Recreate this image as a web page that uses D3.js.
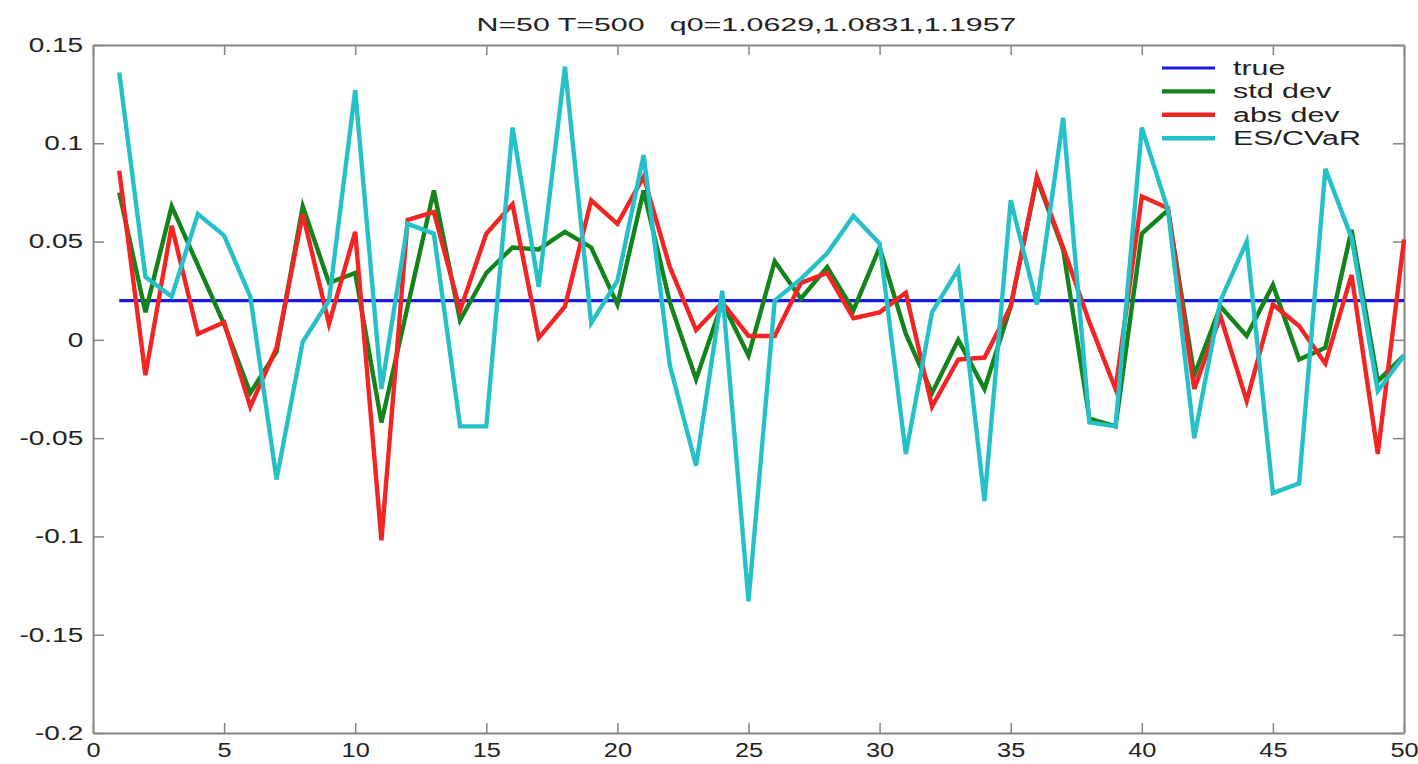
<!DOCTYPE html>
<html>
<head>
<meta charset="utf-8">
<script src="https://d3js.org/d3.v7.min.js"></script>
<style>
    body { margin: 0; background: #fff; }
    svg { display: block; font-family: "Liberation Sans", Arial, sans-serif; }
</style>
</head>
<body>
<svg id="drawing_region"></svg>
<script>
// values, index 1..50
const title = 'N=50 T=500   q0=1.0629,1.0831,1.1957';
const trueValue = 0.02;
const stdDev = [0.075, 0.014, 0.068, 0.038, 0.008, -0.027, -0.006, 0.068, 0.029, 0.034,
    -0.042, 0.017, 0.076, 0.010, 0.034, 0.047, 0.046, 0.055, 0.047, 0.018,
    0.076, 0.019, -0.020, 0.019, -0.008, 0.040, 0.021, 0.037, 0.015, 0.047,
    0.003, -0.027, 0.000, -0.025, 0.017, 0.082, 0.046, -0.040, -0.044, 0.054,
    0.066, -0.018, 0.017, 0.002, 0.028, -0.010, -0.004, 0.056, -0.021, -0.008];
const absDev = [0.086, -0.018, 0.058, 0.003, 0.009, -0.034, -0.004, 0.064, 0.008, 0.055,
    -0.102, 0.061, 0.065, 0.015, 0.054, 0.069, 0.001, 0.017, 0.071, 0.059,
    0.083, 0.037, 0.005, 0.019, 0.002, 0.002, 0.029, 0.034, 0.011, 0.014,
    0.024, -0.034, -0.010, -0.009, 0.017, 0.083, 0.047, 0.009, -0.025, 0.073,
    0.067, -0.025, 0.012, -0.031, 0.018, 0.007, -0.012, 0.033, -0.058, 0.051];
const esCvar = [0.136, 0.032, 0.022, 0.064, 0.053, 0.022, -0.071, -0.001, 0.020, 0.127,
    -0.025, 0.059, 0.054, -0.044, -0.044, 0.108, 0.027, 0.139, 0.0085, 0.030,
    0.094, -0.013, -0.064, 0.025, -0.133, 0.020, 0.031, 0.044, 0.063, 0.049,
    -0.058, 0.014, 0.036, -0.082, 0.071, 0.018, 0.113, -0.042, -0.044, 0.108,
    0.066, -0.050, 0.020, 0.050, -0.078, -0.073, 0.087, 0.052, -0.026, -0.008];
const xTicks = [0, 5, 10, 15, 20, 25, 30, 35, 40, 45, 50];
const yTicks = [-0.2, -0.15, -0.1, -0.05, 0, 0.05, 0.1, 0.15];
const legendNames = ['true', 'std dev', 'abs dev', 'ES/CVaR'];
const lineColors = ['#1a1ae0', '#13841a', '#f22424', '#26c1c8'];

const xs = d3.range(1, stdDev.length + 1);
const trueLine = xs.map(() => trueValue);

var config = {
    parent: '#drawing_region',
    width: 1418,
    height: 764,
    margin: {top: 45, right: 14, bottom: 31, left: 93}
};

const svg = d3.select(config.parent)
    .attr('width', config.width)
    .attr('height', config.height);

const inner_width = config.width - config.margin.left - config.margin.right;
const inner_height = config.height - config.margin.top - config.margin.bottom;

const chart = svg.append('g')
    .attr('transform', `translate(${config.margin.left}, ${config.margin.top})`);

const xscale = d3.scaleLinear().domain([0, 50]).range([0, inner_width]);
const yscale = d3.scaleLinear().domain([-0.2, 0.15]).range([inner_height, 0]);

const fmt = d => String(+d.toFixed(2));

// box with inward ticks on all four sides (matlab style)
const xaxis_group = chart.append('g')
    .attr('transform', `translate(0, ${inner_height})`)
    .call(d3.axisBottom(xscale).tickValues(xTicks).tickFormat(fmt)
        .tickSizeInner(-10).tickSizeOuter(0).tickPadding(10));
const yaxis_group = chart.append('g')
    .call(d3.axisLeft(yscale).tickValues(yTicks).tickFormat(fmt)
        .tickSizeInner(-11).tickSizeOuter(0).tickPadding(7));
chart.append('g')
    .call(d3.axisTop(xscale).tickValues(xTicks).tickFormat('')
        .tickSizeInner(-10).tickSizeOuter(0));
chart.append('g')
    .attr('transform', `translate(${inner_width}, 0)`)
    .call(d3.axisRight(yscale).tickValues(yTicks).tickFormat('')
        .tickSizeInner(-11).tickSizeOuter(0));

chart.selectAll('.domain')
    .attr('stroke', '#858585')
    .attr('stroke-width', 2);
chart.selectAll('.tick line')
    .attr('stroke', '#858585')
    .attr('stroke-width', 1.5);
chart.selectAll('.tick text')
    .attr('font-family', '"Liberation Sans", Arial, sans-serif')
    .attr('fill', '#222');
xaxis_group.selectAll('.tick text')
    .attr('font-size', 19.5)
    .attr('transform', 'scale(1.3, 1)');
yaxis_group.selectAll('.tick text')
    .attr('font-size', 20)
    .attr('transform', 'scale(1.4, 1)');

// lines
const line = d3.line()
    .x((d, i) => xscale(xs[i]))
    .y(d => yscale(d));

const series = [trueLine, stdDev, absDev, esCvar];
const widths = [3.2, 4.4, 4.4, 4.4];

chart.selectAll('path.series')
    .data(series)
    .join('path')
    .attr('class', 'series')
    .attr('d', line)
    .attr('fill', 'none')
    .attr('stroke', (d, i) => lineColors[i])
    .attr('stroke-width', (d, i) => widths[i])
    .attr('stroke-linejoin', 'miter');

// title
svg.append('text')
    .attr('x', config.margin.left + inner_width / 2 - 2)
    .attr('y', 31)
    .attr('text-anchor', 'middle')
    .attr('font-size', 19)
    .attr('fill', '#222')
    .attr('textLength', 540)
    .attr('lengthAdjust', 'spacingAndGlyphs')
    .style('white-space', 'pre')
    .text(title);

// legend
const legend = svg.append('g')
    .attr('transform', 'translate(1162, 68)');

const rows = legend.selectAll('g')
    .data(legendNames)
    .join('g')
    .attr('transform', (d, i) => `translate(0, ${i * 23.4})`);

rows.append('line')
    .attr('x1', 0)
    .attr('x2', 53)
    .attr('stroke', (d, i) => lineColors[i])
    .attr('stroke-width', (d, i) => widths[i]);

rows.append('text')
    .attr('transform', `translate(71, 7) scale(1.45, 1)`)
    .attr('font-size', 21)
    .attr('fill', '#222')
    .text(d => d);
</script>
</body>
</html>
